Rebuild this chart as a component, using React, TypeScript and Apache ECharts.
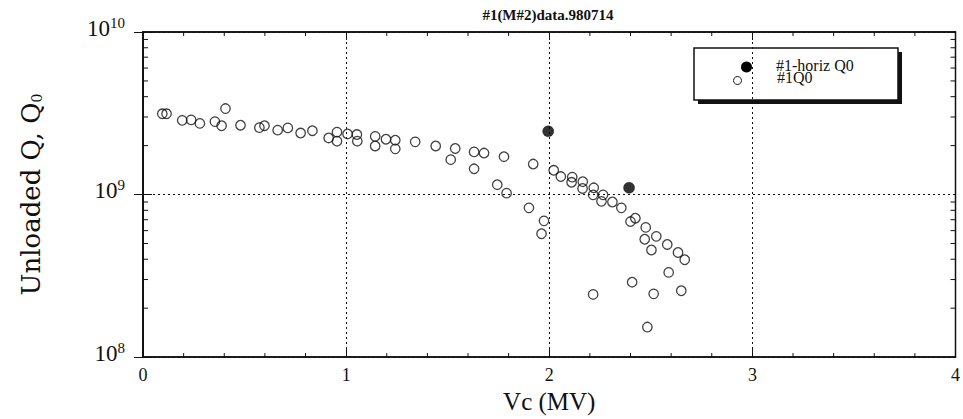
import React, { useEffect, useRef } from "react";
import * as echarts from "echarts";

const titleText = "#1(M#2)data.980714";
const xName = "Vc (MV)";
const xTicks = [0, 1, 2, 3, 4];
const xMinorTicks = [0.2, 0.4, 0.6, 0.8, 1.2, 1.4, 1.6, 1.8, 2.2, 2.4, 2.6, 2.8, 3.2, 3.4, 3.6, 3.8];
const yMinorTicks = [2e8, 3e8, 4e8, 5e8, 6e8, 7e8, 8e8, 9e8, 2e9, 3e9, 4e9, 5e9, 6e9, 7e9, 8e9, 9e9];

const vcQ0 = [0.095, 0.116, 0.193, 0.237, 0.28, 0.354, 0.387, 0.406, 0.48, 0.573, 0.598, 0.663, 0.713, 0.776, 0.834, 0.914, 0.955, 0.955, 1.007, 1.053, 1.055, 1.143, 1.143, 1.196, 1.242, 1.242, 1.34, 1.441, 1.537, 1.515, 1.63, 1.679, 1.63, 1.777, 1.744, 1.79, 1.921, 1.9, 1.974, 1.962, 2.022, 2.057, 2.113, 2.11, 2.165, 2.164, 2.219, 2.216, 2.265, 2.257, 2.311, 2.355, 2.424, 2.4, 2.475, 2.47, 2.527, 2.503, 2.581, 2.634, 2.667, 2.588, 2.408, 2.216, 2.514, 2.65, 2.483];
const q0 = [3.14e9, 3.14e9, 2.86e9, 2.88e9, 2.74e9, 2.81e9, 2.65e9, 3.38e9, 2.67e9, 2.58e9, 2.65e9, 2.49e9, 2.57e9, 2.39e9, 2.47e9, 2.23e9, 2.42e9, 2.13e9, 2.36e9, 2.34e9, 2.13e9, 2.28e9, 1.99e9, 2.19e9, 2.16e9, 1.91e9, 2.11e9, 1.99e9, 1.92e9, 1.64e9, 1.83e9, 1.8e9, 1.44e9, 1.71e9, 1.15e9, 1.02e9, 1.54e9, 8.28e8, 6.89e8, 5.74e8, 1.41e9, 1.29e9, 1.28e9, 1.19e9, 1.2e9, 1.09e9, 1.1e9, 9.96e8, 9.96e8, 9.08e8, 9.0e8, 8.28e8, 7.15e8, 6.82e8, 6.28e8, 5.31e8, 5.53e8, 4.56e8, 4.93e8, 4.4e8, 3.97e8, 3.32e8, 2.89e8, 2.43e8, 2.45e8, 2.56e8, 1.53e8];

const vcHoriz = [1.995, 2.393];
const qHoriz = [2.45e9, 1.1e9];

const legendNames = ["#1-horiz Q0", "#1Q0"];

const FONT = "Liberation Serif";
const WIDE = "DejaVu Serif";
const INK = "#111";

export default function App() {
  const ref = useRef<HTMLDivElement>(null);
  useEffect(() => {
    document.body.style.margin = "0";
    const chart = echarts.init(ref.current!, null, { renderer: "svg" });
    const supRich = {
      b: { fontFamily: FONT, fontSize: 23, color: INK, lineHeight: 26 },
      s: { fontFamily: FONT, fontSize: 15, color: INK, verticalAlign: "top", lineHeight: 26, padding: [0, 0, 12, 0] },
    };
    const yLabelFmt = (v: number) => "{b|10}{s|" + Math.round(Math.log10(v)) + "}";
    const xMajorTick = { show: true, inside: true, length: 8, lineStyle: { color: INK, width: 1 } };
    const st = { stroke: INK, lineWidth: 1 };
    const option: any = {
      animation: false,
      backgroundColor: "#fff",
      title: {
        text: titleText,
        left: 543,
        textAlign: "center",
        top: 2,
        textStyle: { fontFamily: FONT, fontSize: 15, fontWeight: "bold", color: INK },
      },
      grid: {
        left: 143,
        right: 5,
        top: 32,
        bottom: 53,
        show: true,
        borderColor: INK,
        borderWidth: 1.5,
        backgroundColor: "transparent",
      },
      xAxis: [
        {
          type: "value",
          min: 0,
          max: 4,
          interval: 1,
          position: "bottom",
          name: xName,
          nameLocation: "middle",
          nameGap: 22,
          nameTextStyle: { fontFamily: FONT, fontSize: 25, color: INK },
          axisLine: { show: true, lineStyle: { color: INK, width: 1.5 } },
          axisTick: xMajorTick,
          axisLabel: {
            fontFamily: FONT,
            fontSize: 18,
            color: INK,
            margin: 9,
            formatter: (v: number) => (xTicks.includes(v) ? String(v) : ""),
          },
          splitLine: { show: true, lineStyle: { color: INK, type: [2, 3], width: 1 } },
        },
        {
          type: "value",
          min: 0,
          max: 4,
          interval: 1,
          position: "top",
          axisLine: { show: true, lineStyle: { color: INK, width: 1.5 } },
          axisTick: xMajorTick,
          axisLabel: { show: false },
          splitLine: { show: false },
        },
      ],
      yAxis: [
        {
          type: "log",
          logBase: 10,
          min: 1e8,
          max: 1e10,
          position: "left",
          name: "{b|Unloaded Q, Q}{s|0}",
          nameLocation: "middle",
          nameGap: 99,
          nameRotate: 90,
          nameTextStyle: {
            rich: {
              b: { fontFamily: WIDE, fontSize: 26, color: INK },
              s: { fontFamily: WIDE, fontSize: 14, color: INK, verticalAlign: "bottom", padding: [10, 0, 0, 0] },
            },
          },
          axisLine: { show: true, lineStyle: { color: INK, width: 1.5 } },
          axisTick: { show: true, inside: true, length: 9, lineStyle: { color: INK, width: 1 } },
          axisLabel: { formatter: yLabelFmt, rich: supRich, margin: 18, padding: [0, 0, 8, 0] },
          splitLine: { show: true, lineStyle: { color: INK, type: [2, 3], width: 1 } },
        },
        {
          type: "log",
          logBase: 10,
          min: 1e8,
          max: 1e10,
          position: "right",
          axisLine: { show: true, lineStyle: { color: INK, width: 1.5 } },
          axisTick: { show: true, inside: true, length: 9, lineStyle: { color: INK, width: 1 } },
          axisLabel: { show: false },
          splitLine: { show: false },
        },
      ],
      series: [
        {
          name: "yMinorTicks",
          type: "custom",
          xAxisIndex: 0,
          yAxisIndex: 0,
          silent: true,
          data: yMinorTicks.map((v) => [0, v]),
          renderItem: (params: any, api: any) => {
            const l = api.coord([0, api.value(1)]);
            const r = api.coord([4, api.value(1)]);
            return {
              type: "group",
              children: [
                { type: "line", shape: { x1: l[0], y1: l[1], x2: l[0] + 5, y2: l[1] }, style: st },
                { type: "line", shape: { x1: r[0] - 5, y1: r[1], x2: r[0], y2: r[1] }, style: st },
              ],
            };
          },
        },
        {
          name: "xMinorTicks",
          type: "custom",
          xAxisIndex: 0,
          yAxisIndex: 0,
          silent: true,
          data: xMinorTicks.map((v) => [v, 1e8]),
          renderItem: (params: any, api: any) => {
            const b = api.coord([api.value(0), 1e8]);
            const t = api.coord([api.value(0), 1e10]);
            return {
              type: "group",
              children: [
                { type: "line", shape: { x1: b[0], y1: b[1], x2: b[0], y2: b[1] - 4 }, style: st },
                { type: "line", shape: { x1: t[0], y1: t[1], x2: t[0], y2: t[1] + 4 }, style: st },
              ],
            };
          },
        },
        {
          name: legendNames[1],
          type: "scatter",
          symbol: "circle",
          symbolSize: 9.5,
          itemStyle: { color: "rgba(255,255,255,0)", borderColor: INK, borderWidth: 1.3 },
          data: vcQ0.map((x, i) => [x, q0[i]]),
        },
        {
          name: legendNames[0],
          type: "scatter",
          symbol: "circle",
          symbolSize: 11,
          itemStyle: { color: "#000", borderColor: "#000", borderWidth: 0.5 },
          data: vcHoriz.map((x, i) => [x, qHoriz[i]]),
        },
      ],
      graphic: [
        { type: "rect", shape: { x: 698, y: 52, width: 204, height: 52 }, style: { fill: INK } },
        { type: "rect", shape: { x: 694, y: 48, width: 204, height: 52 }, style: { fill: "#fff", stroke: INK, lineWidth: 1.5 } },
        { type: "circle", shape: { cx: 746.5, cy: 67, r: 5.5 }, style: { fill: "#000" } },
        { type: "circle", shape: { cx: 737.5, cy: 80.5, r: 4 }, style: { fill: "#fff", stroke: INK, lineWidth: 1 } },
        {
          type: "text",
          x: 776,
          y: 73,
          style: { text: legendNames[0], fontFamily: FONT, fontSize: 16, fill: INK, verticalAlign: "bottom" },
        },
        {
          type: "text",
          x: 777,
          y: 85,
          style: { text: legendNames[1], fontFamily: FONT, fontSize: 16, fill: INK, verticalAlign: "bottom" },
        },
      ],
    };
    chart.setOption(option);
    return () => chart.dispose();
  }, []);
  return <div ref={ref} style={{ width: 963, height: 419 }} />;
}
